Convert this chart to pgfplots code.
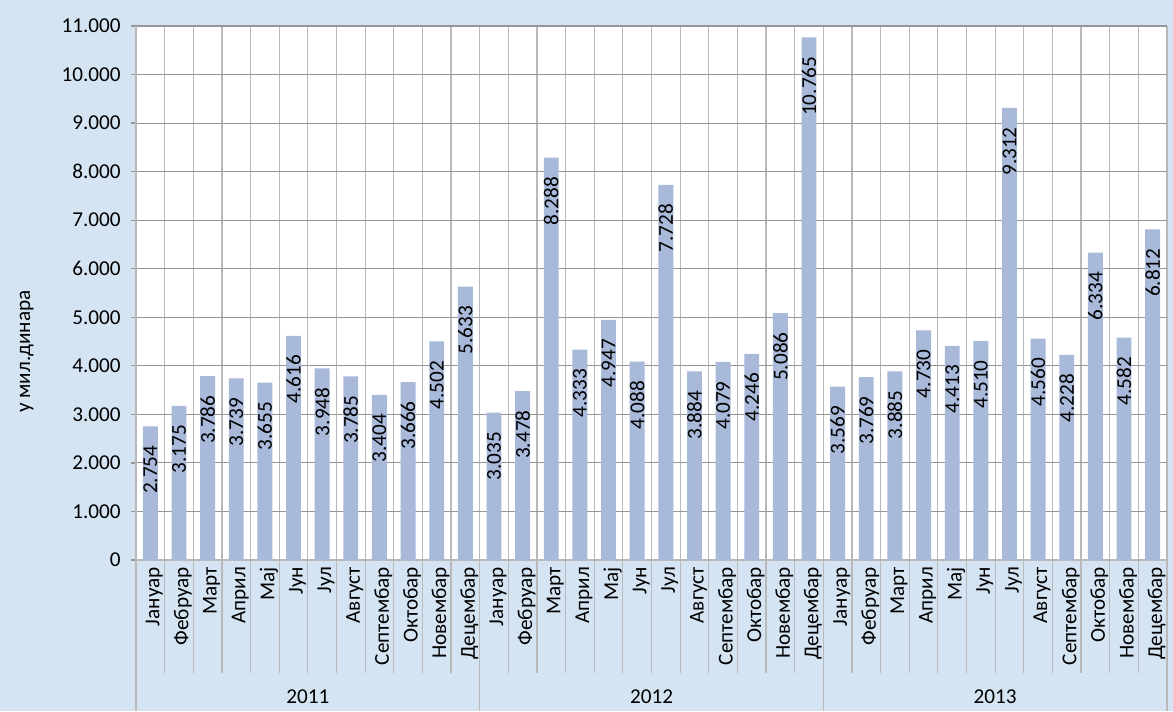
\documentclass[border=0pt]{standalone}
\usepackage{pgfplots}
\pgfplotsset{compat=1.18}
\usepackage{fontspec}
\setmainfont{Carlito}

\definecolor{bgblue}{RGB}{213,228,243}
\definecolor{barblue}{RGB}{169,185,217}
\definecolor{gridgray}{RGB}{150,150,150}
\definecolor{vgray}{RGB}{185,185,185}

\begin{document}
\fontsize{15.9}{19}\selectfont
\begin{tikzpicture}
% background of the whole chart (1px = 0.75pt)
\fill[bgblue] (-102pt,-113.25pt) rectangle (777.75pt,420pt);
\path[use as bounding box] (-102pt,-113.25pt) rectangle (777.75pt,420pt);
\begin{axis}[
  at={(0,0)}, anchor=south west,
  scale only axis, width=773.25pt, height=400.5pt,
  axis background/.style={fill=white},
  ybar, bar width=0.52,
  xmin=-0.5, xmax=35.5, ymin=0, ymax=11000,
  ytick={0,1000,...,11000},
  scaled y ticks=false,
  /pgf/number format/.cd, 1000 sep={.}, assume math mode=true,
  /pgfplots/.cd,
  xtick={0,...,35},
  xticklabels={Јануар,Фебруар,Март,Април,Мај,Јун,Јул,Август,Септембар,Октобар,Новембар,Децембар,
               Јануар,Фебруар,Март,Април,Мај,Јун,Јул,Август,Септембар,Октобар,Новембар,Децембар,
               Јануар,Фебруар,Март,Април,Мај,Јун,Јул,Август,Септембар,Октобар,Новембар,Децембар},
  minor xtick={-0.5,0.5,...,35.5},
  xtick pos=bottom, ytick pos=left,
  tick align=outside,
  major tick length=4pt,
  minor tick length=84.75pt,
  major x tick style={draw=none},
  minor x tick style={vgray, line width=0.9pt},
  major y tick style={gridgray, line width=0.9pt},
  xmajorgrids=false, xminorgrids=true, ymajorgrids=true,
  minor x grid style={vgray, line width=0.9pt},
  major y grid style={gridgray, line width=0.8pt},
  axis line style={vgray, line width=1pt},
  axis x line*=bottom, axis y line*=left,
  xticklabel style={rotate=90, anchor=east, yshift=-3pt, inner sep=1pt},
  yticklabel style={xshift=-2pt},
  ylabel={у мил.динара},
  ylabel style={at={(axis description cs:-0.106,0.39)}, anchor=center, rotate=0},
  nodes near coords,
  every node near coord/.append style={rotate=90, anchor=east, xshift=-9pt, black},
  clip=false,
]
\addplot[fill=barblue, draw=none] coordinates {
  (0,2754) (1,3175) (2,3786) (3,3739) (4,3655) (5,4616)
  (6,3948) (7,3785) (8,3404) (9,3666) (10,4502) (11,5633)
  (12,3035) (13,3478) (14,8288) (15,4333) (16,4947) (17,4088)
  (18,7728) (19,3884) (20,4079) (21,4246) (22,5086) (23,10765)
  (24,3569) (25,3769) (26,3885) (27,4730) (28,4413) (29,4510)
  (30,9312) (31,4560) (32,4228) (33,6334) (34,4582) (35,6812)
};
\draw[vgray, line width=1pt] (axis cs:-0.5,0) -- ([yshift=-113.25pt]axis cs:-0.5,0);
\draw[vgray, line width=1pt] (axis cs:11.5,0) -- ([yshift=-113.25pt]axis cs:11.5,0);
\draw[vgray, line width=1pt] (axis cs:23.5,0) -- ([yshift=-113.25pt]axis cs:23.5,0);
\draw[vgray, line width=1pt] (axis cs:35.5,0) -- ([yshift=-113.25pt]axis cs:35.5,0);
\node at ([yshift=-102.75pt]axis cs:5.5,0) {2011};
\node at ([yshift=-102.75pt]axis cs:17.5,0) {2012};
\node at ([yshift=-102.75pt]axis cs:29.5,0) {2013};
\end{axis}
\end{tikzpicture}
\end{document}
